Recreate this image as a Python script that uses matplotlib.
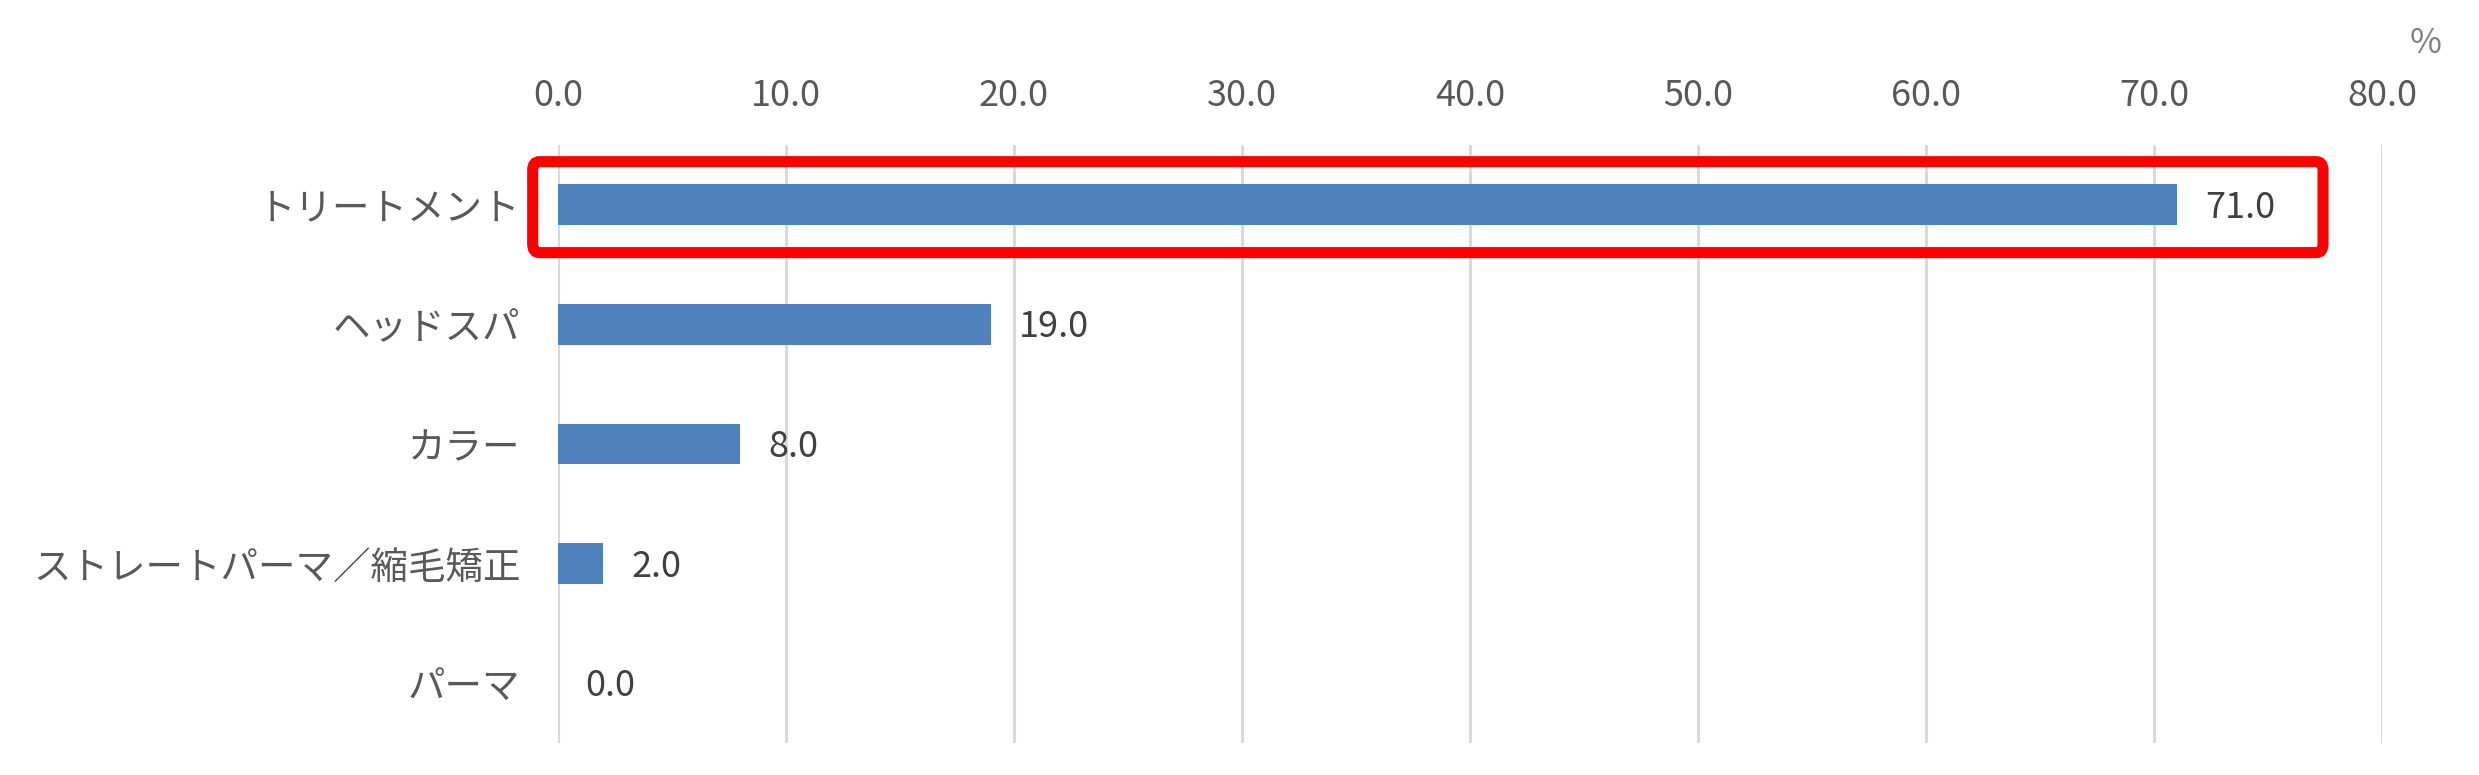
import numpy as np
import matplotlib
matplotlib.use("Agg")
import matplotlib.pyplot as plt
from matplotlib.patches import FancyBboxPatch

plt.rcParams['font.family'] = ['Noto Sans CJK JP', 'DejaVu Sans']

# data
categories = ["トリートメント", "ヘッドスパ", "カラー", "ストレートパーマ／縮毛矯正", "パーマ"]
values = [71.0, 19.0, 8.0, 2.0, 0.0]
xticks = [0, 10, 20, 30, 40, 50, 60, 70, 80]
highlight = 0  # index of the boxed category

bar_color = "#4F81BD"
text_color = "#595959"

fig = plt.figure(figsize=(24.79, 7.75), dpi=100)
ax = fig.add_axes([0.225, 0.041, 0.736, 0.772])

y = np.arange(len(categories))
ax.barh(y, values, height=0.34, color=bar_color, zorder=3)

ax.set_xlim(0, 80)
ax.set_ylim(len(categories) - 0.5, -0.5)
ax.set_xticks(xticks)
ax.set_xticklabels([f"{v:.1f}" for v in xticks])
ax.set_yticks(y)
ax.set_yticklabels(categories)
ax.xaxis.tick_top()
ax.tick_params(axis="x", length=0, pad=22, labelsize=26, labelcolor=text_color)
ax.tick_params(axis="y", length=0, pad=27, labelsize=27, labelcolor=text_color)
ax.grid(axis="x", color="#D9D9D9", linewidth=2.2, zorder=0)
for s in ax.spines.values():
    s.set_visible(False)

# value labels
for yi, v in zip(y, values):
    ax.annotate(f"{v:.1f}", (v, yi), xytext=(20, -2), textcoords="offset points",
                ha="left", va="center", fontsize=26, color="#404040")

# "%" unit mark
ax.text(1.024, 1.17, "%", transform=ax.transAxes, ha="center", va="center",
        fontsize=25, color="#7F7F7F")

# red highlight box around first row
box = FancyBboxPatch((-1.1, highlight - 0.36), 78.5, 0.76,
                     boxstyle="round,pad=0,rounding_size=0.3", mutation_aspect=0.24,
                     fill=False, edgecolor="#FF0000", linewidth=8,
                     clip_on=False, zorder=5)
ax.add_patch(box)

fig.savefig("out.png", dpi=100)
